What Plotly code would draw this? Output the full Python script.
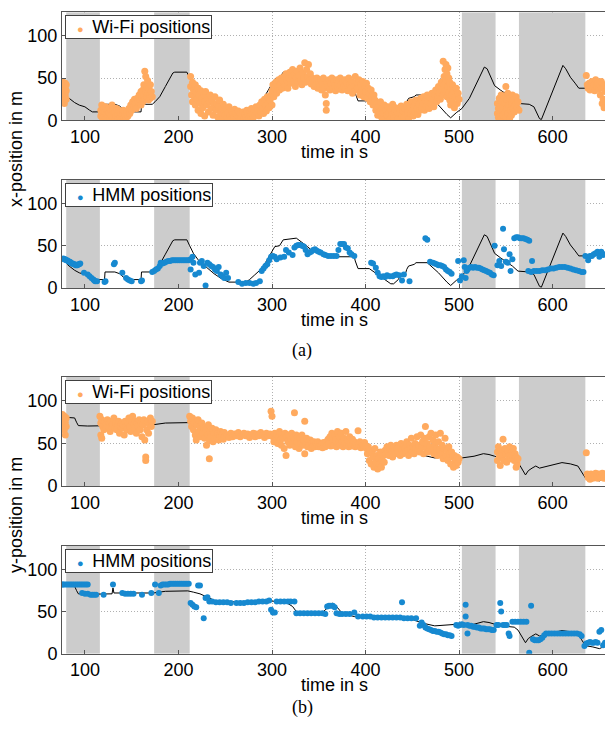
import plotly.graph_objects as go

# ---------------- data (time in s, position in m) ----------------
shaded_intervals = [(80, 116), (174, 212), (503, 539), (564, 635)]
x_ticks = [100, 200, 300, 400, 500, 600]
y_ticks = [0, 50, 100]
y_max = 128

truth_x = [(76,37),(79,33),(82,27),(85,24),(89,21),(94,18),(100,16),(105,12),(108,10),(116,10),(121,10),(121.5,19),
           (132,19),(137,17),(142,12),(150,10),(160,10),(160.5,19),(172,19),(175,22),(180,28),(186,40),(190,48),
           (194,56),(196,57),(209,57),(212,50),(216,41),(222,32),(230,24),(238,17),(246,11),(254,7),(272,7),(276,10),
           (281,15),(287,21),(293,30),(297,37),(303,49),(308,50),(312,57),(326,59),(330,56),(334,52),(338,49),(342,45),
           (350,42),(350.5,40),(359,40),(359.5,38),(371,38),(371.5,37),(388,37),(389,32),(392,23),(404,23),(408,20),
           (414,15),(421,10),(427,5),(430,5),(435,10),(437,14),(443,18),(444,22),(446,26),(452,28),(454,30),(466,30),
           (470,26),(478,18),(487,7),(491,3),(497,9),(503,14),(511,26),(516,38),(522,53),(527,63),(530,61),(534,52),
           (538,41),(544,36),(552,30),(557,26),(563,20),(570,19),(575,19),(580,16),(586,2),(588,1),(594,18),(602,41),
           (607,55),(611,65),(614,61),(619,51),(624,44),(628,38),(635,38),(640,40),(645,40),(650,38),(656,40)]

truth_y = [(76,81),(89,80),(91,75),(93,71),(103,70.5),(116,70.5),(129,71),(130,78),(131,72),(144,72),(173,72),(186,74),
           (210,74.5),(216,73),(223,71),(231,67),(239,63),(256,61.5),(297,62.5),(314,61.5),(322,56),(326,50),(338,48),
           (351,46),(359,54),(365,60),(369,56),(375,48),(388,44),(400,44),(410,42),(421,43),(446,42),(458,38),(462,36),
           (474,33),(499,35),(503,33),(516,35),(526,38),(532,37),(538,35),(545,33),(559,31.5),(563,28),(571,13),(574,18),
           (578,21),(582,23.5),(586,21),(598,24),(610,27.5),(619,26),(627,23.5),(631,16.5),(635,9.5),(643,8),(650,6),(656,9)]

wifi_x = [(76,42),(76,36),(77,45),(77,30),(77,24),(78,40),(78,33),(78,27),(78,20),(79,44),(79,37),(79,30),(80,42),(80,35),(80,25),
          (117,12),(117,5),(118,18),(118,8),(119,2),(120,14),(120,6),(121,10),(122,3),(122,16),(123,8),(124,1),(124,12),(125,5),
          (126,15),(126,9),(127,2),(128,11),(128,6),(129,18),(130,3),(130,13),(131,8),(132,0),(132,10),(133,5),(134,14),(135,2),
          (135,8),(136,12),(137,4),(138,9),(139,1),(140,6),(141,12),(142,3),
          (143,7),(144,2),(145,10),(146,5),(147,14),(148,8),(149,18),(150,12),(151,22),(152,16),(153,25),(154,20),(155,14),
          (156,26),(157,22),(158,30),(159,24),(160,18),(160,34),(161,28),(162,36),(162,22),(163,42),(163,30),(164,58),(164,25),
          (165,52),(165,35),(166,40),(166,28),(167,47),(167,32),(168,24),(168,38),(169,30),(170,42),(170,26),(171,34),(172,28),
          (213,52),(213,40),(214,30),(215,45),(215,22),(216,36),(217,28),(218,42),(218,18),(219,33),(220,25),(221,38),(221,12),
          (222,30),(223,20),(224,35),(224,8),(225,26),(226,15),(227,30),(228,22),(228,5),(229,34),(230,18),(231,26),(232,10),
          (233,22),(234,30),(235,14),(236,24),(237,6),(238,18),(239,28),(240,12),(241,20),(242,4),(243,16),(244,24),(245,9),
          (246,14),(247,2),(248,19),(249,10),(250,6),(251,14),(252,3),(253,9),(254,16),(255,5),(256,1),(257,11),(258,7),(259,3),
          (260,13),(261,8),(262,2),(263,6),(264,11),(265,4),(266,8),(267,1),(268,5),(269,10),(270,3),(271,7),(272,4),(273,12),
          (274,6),(275,2),(276,9),(277,5),(278,14),(279,7),(280,3),(281,11),(282,6),(283,16),(284,9),(285,13),(286,5),(287,18),
          (288,10),(289,22),(290,14),(291,8),(292,25),(293,17),(294,11),(295,28),(296,20),(297,15),(298,24),(299,30),(300,18),
          (300,35),(301,42),(302,28),(303,38),(304,45),(305,32),(306,40),(307,48),(308,36),(309,43),(310,50),(311,38),(312,46),
          (313,52),(314,41),(315,55),(316,47),(317,38),(318,50),(319,57),(320,44),(321,52),(322,60),(323,46),(324,54),(325,40),
          (326,50),(327,58),(328,45),(329,53),(330,62),(331,48),(332,42),(333,56),(334,50),(335,68),(336,45),(337,60),(338,52),
          (339,66),(340,47),(341,55),(342,43),(343,50),(344,46),(345,40),
          (346,48),(347,42),(348,50),(349,38),(350,45),(351,40),(352,48),(353,36),(354,44),(355,50),(356,38),(357,30),(358,20),
          (358,12),(359,45),(360,40),(361,48),(362,36),(363,43),(364,50),(365,38),(366,46),(367,41),(368,35),(369,48),(370,40),
          (371,44),(372,37),(373,50),(374,42),(375,36),(376,45),(377,40),(378,48),(379,38),(380,44),(381,35),(382,50),(383,42),
          (384,38),(385,46),(386,32),(387,44),(388,40),(389,52),(390,36),(391,45),(392,38),(393,48),(394,30),(395,42),(396,36),
          (397,46),(398,28),(399,40),(400,34),(401,44),(402,26),(403,38),(404,32),(405,22),(406,36),(407,28),(408,18),(409,30),
          (410,24),
          (411,12),(412,20),(413,6),(414,16),(415,10),(416,22),(417,4),(418,14),(419,8),(420,18),(421,2),(422,12),(423,6),
          (424,16),(425,9),(426,1),(427,13),(428,7),(429,19),(430,4),(431,11),(432,15),(433,6),(434,9),(435,2),(436,14),(437,8),
          (438,17),(439,5),(440,11),(441,3),(442,14),(443,7),(444,19),(445,10),(446,2),(447,16),(448,8),(449,22),(450,12),
          (451,5),(452,17),(453,10),(454,24),(455,14),(456,7),(457,19),(458,12),(459,26),(460,15),
          (461,20),(462,28),(463,12),(464,24),(465,17),(466,30),(467,22),(468,14),(469,27),(470,20),(471,32),(472,25),(473,16),
          (474,30),(475,36),(476,22),(477,28),(478,40),(479,33),(480,25),(481,45),(482,38),(483,70),(483,30),(484,52),(484,42),
          (485,60),(485,35),(486,66),(486,48),(487,55),(487,28),(488,62),(488,40),(489,50),(489,33),(490,45),(490,24),(491,38),
          (491,18),(492,30),(493,42),(493,22),(494,35),(495,15),(496,28),(497,38),(498,20),(499,32),(500,25),
          (541,8),(541,20),(542,3),(542,14),(543,26),(544,10),(544,18),(545,2),(545,30),(546,12),(546,22),(547,6),(547,16),
          (548,28),(549,9),(549,20),(550,40),(550,4),(551,14),(551,24),(552,8),(552,32),(553,18),(554,2),(554,26),(555,12),
          (556,20),(556,6),(557,30),(558,14),(558,24),(559,10),(560,18),(561,28),(562,15),(563,22),(564,12),
          (636,53),(637,42),(638,38),(639,44),(640,36),(641,40),(642,46),(643,38),(644,42),(645,35),(646,48),(647,40),(648,44),
          (649,37),(650,42),(651,30),(652,46),(653,38),(653,20),(654,25),(655,42),(655,15),(656,34)]

hmm_x = [(77,35),(78,34),(79,34),(80,33),(81,33),(82,32),(83,31),(84,31),(85,30),(86,29),(87,29),(88,28),(89,28),(90,27),
         (91,27),(92,27),(93,28),(94,28),(95,29),(99,18),(103,16),(105,14),(107,12),(109,10),(110,9),(111,8),(113,8),(121,7),
         (122,8),(131,28),(132,30),(140,18),(144,12),(146,10),(148,9),(150,8),(160,8),(161,9),(172,19),(174,20),(176,22),
         (178,23),(180,26),(181,30),(183,29),(185,30),(187,31),(189,32),(191,32),(193,33),(195,33),(197,33),(199,33),(201,33),
         (203,33),(205,33),(207,33),(209,33),(211,33),(213,34),(215,37),(216,30),(213,22),(218,16),(222,18),(223,30),(225,32),
         (227,26),(229,3),(231,30),(233,28),(235,26),(237,25),(239,22),(241,20),(243,25),(245,16),(247,14),(249,12),(251,18),
         (253,12),(264,7),(268,5),(272,6),(276,6),(280,5),(283,6),(287,8),(289,20),(291,23),(293,26),(295,28),(297,33),(299,37),
         (301,38),(303,37),(305,34),(309,36),(313,37),(315,45),(318,42),(322,39),(324,48),(326,50),(328,51),(330,51),(332,50),
         (334,49),(336,45),(338,40),(340,42),(342,43),(344,45),(346,46),(348,44),(350,43),(352,42),(355,40),(357,39),(360,38),
         (363,38),(366,38),(369,38),(371,45),(373,52),(375,52),(377,52),(379,48),(381,47),(383,42),(385,40),(388,38),(406,30),
         (408,29),(411,24),(413,18),(415,14),(417,13),(419,14),(421,13),(423,15),(426,14),(429,14),(431,15),(433,16),(436,15),
         (439,9),(441,16),(447,8),(464,59),(466,57),(469,31),(472,30),(474,29),(476,28),(478,27),(480,27),(482,26),(484,25),
         (486,22),(488,20),(490,19),(492,17),(499,32),(501,9),(503,14),(505,33),(506,25),(507,12),(508,20),(509,22),(511,24),
         (513,25),(515,24),(517,25),(519,24),(521,24),(523,23),(525,22),(527,21),(529,20),(531,19),(533,18),(535,16),(537,15),
         (538,50),(541,27),(543,32),(545,26),(547,70),(548,46),(550,31),(552,30),(554,40),(555,20),(557,34),(559,59),(561,60),
         (563,60),(565,59),(567,59),(569,59),(571,58),(573,57),(575,56),(578,32),(574,20),(577,19),(580,20),(583,20),(586,20),
         (589,21),(592,21),(595,22),(598,23),(601,23),(604,24),(607,25),(610,25),(613,25),(616,24),(619,23),(622,22),(625,21),
         (628,20),(631,19),(633,19),(635,38),(638,33),(640,38),(642,38),(644,40),(646,41),(648,43),(650,37),(652,43),(654,39),
         (656,40)]

wifi_y = [(76,84),(77,78),(77,72),(78,82),(78,66),(79,75),(79,60),(80,80),(80,70),
          (116,82),(117,74),(117,60),(118,78),(118,56),(119,70),(120,66),(121,76),(122,72),(123,68),(124,78),(125,70),(126,74),
          (127,64),(128,76),(129,70),(130,72),(131,80),(132,68),(133,74),(134,66),(135,72),(136,76),(137,62),(138,70),(139,74),
          (140,68),(141,72),(142,60),(143,76),(144,70),(145,66),(146,74),(147,80),(148,70),(149,64),(150,76),(151,82),(152,72),
          (153,68),(154,76),(155,62),(156,74),(157,70),(158,78),(159,66),(160,74),(161,58),(162,72),(163,78),(164,54),(165,34),
          (165,30),(166,66),(167,76),(168,62),(169,72),(170,80),(171,70),(172,76),
          (212,82),(213,76),(214,70),(215,80),(216,66),(217,74),(218,60),(219,54),(220,72),(221,78),(222,64),(223,70),(224,58),
          (225,74),(226,62),(227,68),(228,56),(229,66),(230,48),(231,60),(232,72),(233,32),(233,54),(234,64),(235,58),(236,68),
          (237,52),(238,62),(239,56),(240,66),(241,58),(242,62),(243,54),(244,60),(245,64),(246,57),(247,61),(248,55),(249,63),
          (250,59),(252,60),(254,57),(256,62),(258,58),(260,61),(262,59),(264,63),(266,58),(268,60),(270,62),(272,59),(274,61),
          (276,57),(278,60),(280,62),(282,58),(284,61),(286,59),(288,63),(290,60),(292,57),(294,62),(296,59),(298,61),(299,88),
          (300,82),(300,60),
          (301,58),(302,52),(303,62),(304,56),(305,60),(306,50),(307,58),(308,64),(309,54),(310,48),(311,60),(312,56),(313,44),
          (314,62),(315,36),(316,58),(317,52),(318,60),(319,48),(320,56),(321,62),(322,50),(323,58),(324,86),(324,54),(325,46),
          (326,60),(327,52),(328,58),(329,44),(330,56),(331,50),(332,60),(333,48),(334,54),(335,76),(335,38),(336,50),(337,56),
          (338,46),(339,52),(340,48),(341,54),(342,44),(343,50),(344,47),(345,52),
          (346,46),(347,50),(348,48),(349,52),(350,46),(351,50),(352,47),(353,49),(354,45),(355,51),(356,48),(357,46),(358,52),
          (359,48),(360,55),(361,50),(362,58),(363,47),(364,62),(365,52),(366,48),(367,60),(368,54),(369,46),(370,64),(371,50),
          (372,58),(373,48),(374,62),(375,52),(376,46),(377,56),(378,50),(379,64),(380,48),(381,54),(382,46),(383,58),(384,50),
          (385,47),(386,55),(387,49),(388,52),(389,46),(390,50),(391,48),(392,65),(393,47),(394,52),(395,45),(396,50),(397,48),
          (398,46),(399,51),(400,47),
          (401,44),(402,38),(403,46),(404,30),(405,42),(406,26),(407,40),(408,34),(409,22),(410,44),(411,28),(412,36),(413,20),
          (414,32),(415,26),(416,40),(417,22),(418,30),(419,36),(420,28),
          (421,42),(422,38),(423,46),(424,40),(425,36),(426,44),(427,48),(428,40),(429,34),(430,45),(431,42),(432,38),(433,48),
          (434,44),(435,40),(436,46),(437,36),(438,50),(439,42),(440,38),(441,46),(442,44),(443,40),(444,52),(445,42),(446,36),
          (447,48),(448,44),(449,56),(450,40),(451,46),(452,38),(453,50),(454,44),(455,58),(456,42),(457,48),(458,40),(459,60),
          (460,46),(461,52),(462,38),(463,56),(464,70),(465,44),(466,50),(467,40),(468,58),(469,46),(470,62),(471,42),(472,54),
          (473,38),(474,48),(475,60),(476,44),(477,36),(478,52),(479,42),(480,62),(481,38),(482,48),(483,32),(484,44),(485,56),
          (486,36),(487,42),(488,30),(489,46),(490,38),(491,26),(492,40),(493,34),(494,22),(495,36),(496,30),(497,24),(498,34),
          (499,28),(500,32),
          (541,40),(541,30),(542,46),(543,34),(544,24),(545,42),(546,36),(547,55),(548,30),(549,44),(550,38),(551,28),(552,42),
          (553,35),(554,46),(555,32),(556,40),(557,36),(558,44),(559,30),(560,38),(561,22),(561,34),(562,26),(563,32),
          (636,39),(637,14),(638,10),(639,12),(640,8),(641,14),(642,11),(643,9),(644,13),(645,10),(646,15),(647,12),(648,9),
          (649,14),(650,11),(651,13),(652,10),(653,15),(654,12),(655,9),(656,14)]

hmm_y = [(76,82),(77,82),(79,82),(81,82),(83,82),(85,82),(87,82),(89,82),(91,82),(93,82),(95,82),(97,82),(99,82),(101,82),
         (103,82),(97,72),(100,71),(103,71),(106,70),(108,70),(110,70),(112,70),(120,70),(130,82),(140,72),(143,71),(146,71),
         (149,71),(152,71),(161,70),(171,72),(175,82),(179,72),(181,81),(183,82),(185,82),(187,82),(189,82),(191,83),(193,83),
         (195,83),(197,83),(199,83),(201,83),(203,83),(205,83),(207,83),(209,83),(211,83),(213,60),(215,58),(217,56),(219,55),
         (221,81),(223,81),(227,42),(229,66),(231,67),(233,62),(236,62),(240,61),(244,61),(248,61),(252,61),(256,60),(262,60),
         (266,60),(270,60),(274,61),(278,61),(282,61),(286,62),(290,62),(294,62),(297,63),(299,52),(301,49),(303,49),(305,62),
         (309,62),(313,62),(317,62),(320,62),(324,62),(326,48),(330,48),(334,48),(338,48),(342,48),(346,48),(350,48),(354,48),
         (357,47),(359,56),(361,57),(363,57),(365,57),(367,55),(369,48),(372,47),(375,47),(379,47),(383,47),(388,49),(392,44),
         (397,44),(401,44),(405,44),(409,43),(413,43),(417,43),(421,43),(425,43),(429,43),(433,43),(437,43),(439,61),(441,42),
         (445,42),(449,42),(454,42),(458,33),(460,37),(462,34),(464,31),(466,30),(468,29),(470,28),(472,27),(474,27),(476,26),
         (478,26),(480,25),(482,24),(484,23),(486,23),(488,22),(490,22),(492,21),(497,34),(499,33),(501,34),(503,35),(505,34),
         (507,58),(507,44),(509,24),(509,34),(511,33),(513,33),(515,32),(517,32),(519,31),(521,31),(523,30),(525,30),(527,30),
         (529,29),(531,29),(533,29),(535,28),(537,28),(540,34),(542,34),(544,60),(545,50),(547,34),(549,34),(551,34),(553,24),
         (554,21),(557,38),(560,38),(563,38),(566,38),(569,38),(572,38),(575,1),(577,57),(579,17),(581,16),(583,16),(585,16),
         (587,17),(589,19),(591,22),(593,24),(596,24),(599,24),(602,24),(605,24),(608,24),(611,24),(614,24),(617,24),(620,24),
         (623,24),(626,24),(629,23),(631,21),(634,9),(636,12),(638,13),(640,14),(642,13),(644,13),(646,14),(648,13),(650,26),
         (652,28),(654,10),(656,13)]

# ---------------- styling ----------------
W, H = 605, 736
L = 62                       # plot area starts at page x = 62
PW = W - L
ORANGE = '#ffaa5f'
BLUE = '#1789d0'
SHADE = '#cccccc'
AXIS = '#555555'
GRID = '#b0b0b0'
FONT = 'Liberation Sans, Arial, Helvetica, sans-serif'
SERIF = 'Liberation Serif, DejaVu Serif, serif'
NB = '\u00a0'


def px_x(px):
    """page pixel x -> paper coordinate (paper spans the plot area)"""
    return (px - L) / PW


def px_y(py):
    return 1 - py / H


panels = [
    dict(top=12.3, bottom=122.0, truth=truth_x, pts=wifi_x, name='Wi-Fi positions', color=ORANGE, size=7),
    dict(top=182.3, bottom=292.0, truth=truth_x, pts=hmm_x, name='HMM positions', color=BLUE, size=6),
    dict(top=382.3, bottom=492.7, truth=truth_y, pts=wifi_y, name='Wi-Fi positions', color=ORANGE, size=7),
    dict(top=553.3, bottom=662.7, truth=truth_y, pts=hmm_y, name='HMM positions', color=BLUE, size=6),
]

fig = go.Figure()
layout = dict(width=W, height=H, margin=dict(l=L, r=0, t=0, b=0),
              paper_bgcolor='white', plot_bgcolor='white', showlegend=False,
              font=dict(family=FONT, size=18, color='black'))
annotations = []

for i, p in enumerate(panels, start=1):
    sfx = '' if i == 1 else str(i)
    xa, ya = 'x' + sfx, 'y' + sfx
    for a, b in shaded_intervals:
        fig.add_trace(go.Scatter(x=[a, a, b, b, a], y=[0, y_max, y_max, 0, 0], mode='lines', fill='toself',
                                 fillcolor=SHADE, line=dict(width=0, color=SHADE), xaxis=xa, yaxis=ya,
                                 showlegend=False, hoverinfo='skip'))
    fig.add_trace(go.Scatter(x=[a for a, b in p['truth']], y=[b for a, b in p['truth']], mode='lines',
                             line=dict(color='black', width=1), xaxis=xa, yaxis=ya, showlegend=False,
                             name='ground truth', hoverinfo='skip'))
    fig.add_trace(go.Scatter(x=[a for a, b in p['pts']], y=[b for a, b in p['pts']], mode='markers',
                             marker=dict(color=p['color'], size=p['size'], line=dict(width=0)),
                             name=p['name'], xaxis=xa, yaxis=ya))
    dom = [px_y(p['bottom']), px_y(p['top'])]
    layout['xaxis' + sfx] = dict(domain=[0, 1], anchor=ya, range=[75.5, 656], tickvals=x_ticks,
                                 showgrid=True, gridcolor=GRID, griddash='1px,2px', gridwidth=1,
                                 showline=True, linecolor=AXIS, linewidth=1, mirror=True,
                                 ticks='inside', ticklen=4, tickcolor=AXIS, zeroline=False,
                                 tickfont=dict(size=18))
    layout['yaxis' + sfx] = dict(domain=dom, anchor=xa, range=[0, y_max], tickvals=y_ticks,
                                 showgrid=True, gridcolor=GRID, griddash='1px,2px', gridwidth=1,
                                 showline=True, linecolor=AXIS, linewidth=1, mirror=False,
                                 ticks='inside', ticklen=4, tickcolor=AXIS, zeroline=False,
                                 tickfont=dict(size=18))
    # legend box (marker + label) drawn as a bordered annotation in the panel's top-left corner
    legend_text = (NB + NB + '<span style="font-size:11px;color:%s">\u25cf</span>' % p['color']
                   + NB + '\u2009' + p['name'])
    annotations.append(dict(text=legend_text, xref='paper', yref='paper', x=px_x(65), y=px_y(p['top'] + 3.4),
                            xanchor='left', yanchor='top', showarrow=False, align='left',
                            bgcolor='white', bordercolor='#404040', borderwidth=1, borderpad=1,
                            font=dict(size=18)))
    annotations.append(dict(text='time in s', xref='paper', yref='paper', x=px_x(334),
                            y=px_y(p['bottom'] + 32), xanchor='center', yanchor='middle',
                            showarrow=False, font=dict(size=18)))

annotations.append(dict(text='x-position in m', xref='paper', yref='paper', x=px_x(16), y=px_y(151),
                        textangle=-90, xanchor='center', yanchor='middle', showarrow=False, font=dict(size=18)))
annotations.append(dict(text='y-position in m', xref='paper', yref='paper', x=px_x(16), y=px_y(522),
                        textangle=-90, xanchor='center', yanchor='middle', showarrow=False, font=dict(size=18)))
annotations.append(dict(text='(a)', xref='paper', yref='paper', x=px_x(302), y=px_y(355), xanchor='center',
                        yanchor='middle', showarrow=False, font=dict(size=18, family=SERIF)))
annotations.append(dict(text='(b)', xref='paper', yref='paper', x=px_x(302), y=px_y(717), xanchor='center',
                        yanchor='middle', showarrow=False, font=dict(size=18, family=SERIF)))

layout['annotations'] = annotations
fig.update_layout(**layout)
# place the figure flush with the page's top-left corner (remove the default 8px body margin)
fig.write_html('out.html', config={'displayModeBar': False},
               post_script="document.body.style.margin='0';")
